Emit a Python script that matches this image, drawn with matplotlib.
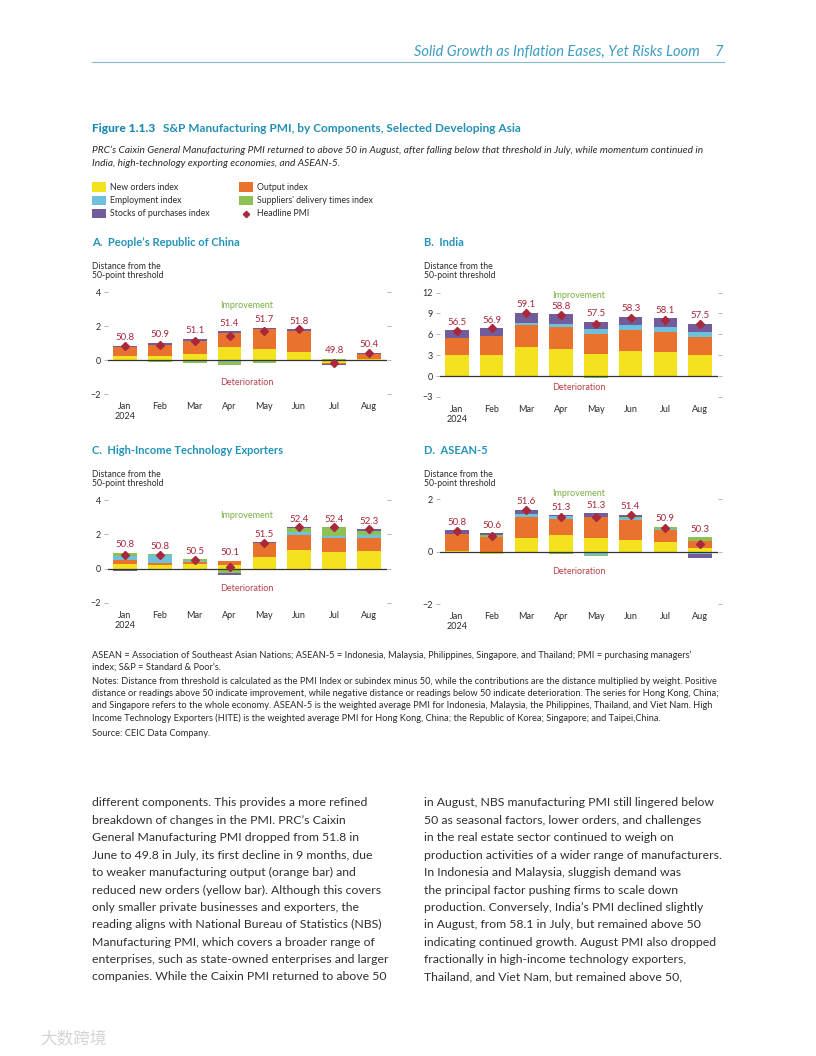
import numpy as np
import matplotlib.pyplot as plt
from matplotlib.patches import Rectangle
from matplotlib.lines import Line2D

W, H = 816, 1056

plt.rcParams['font.family'] = ['Lato', 'DejaVu Sans']

months = ["Jan\n2024", "Feb", "Mar", "Apr", "May", "Jun", "Jul", "Aug"]
comp_names = ["New orders index", "Output index", "Employment index",
              "Suppliers' delivery times index", "Stocks of purchases index"]
comp_colors = ["#F3E21D", "#E9722F", "#6EC1DC", "#8DC153", "#715C9C"]

# distance-from-50 contributions
prc_new_orders = [0.22, 0.25, 0.37, 0.76, 0.67, 0.50, -0.15, 0.05]
prc_output = [0.55, 0.65, 0.74, 0.84, 1.15, 1.20, -0.06, 0.28]
prc_employment = [-0.03, -0.05, -0.05, -0.12, -0.05, -0.02, -0.04, -0.02]
prc_suppliers = [-0.02, -0.04, -0.10, -0.16, -0.15, 0.02, 0.08, 0.05]
prc_stocks = [0.08, 0.12, 0.13, 0.08, 0.08, 0.10, -0.03, 0.04]
prc_headline = [50.8, 50.9, 51.1, 51.4, 51.7, 51.8, 49.8, 50.4]

ind_new_orders = [3.00, 3.10, 4.15, 3.90, 3.20, 3.55, 3.45, 3.10]
ind_output = [2.45, 2.65, 3.20, 3.20, 2.80, 3.00, 2.90, 2.50]
ind_employment = [0.05, 0.05, 0.30, 0.45, 0.70, 0.72, 0.72, 0.72]
ind_suppliers = [-0.05, 0.00, 0.00, -0.05, -0.30, -0.20, -0.15, -0.05]
ind_stocks = [1.05, 1.10, 1.45, 1.30, 1.10, 1.25, 1.20, 1.20]
ind_headline = [56.5, 56.9, 59.1, 58.8, 57.5, 58.3, 58.1, 57.5]

hite_new_orders = [0.25, 0.20, 0.30, 0.22, 0.66, 1.10, 0.95, 1.02]
hite_output = [0.23, 0.12, 0.10, 0.24, 0.83, 0.89, 0.85, 0.75]
hite_employment = [0.23, 0.45, 0.05, -0.05, -0.05, 0.12, 0.12, 0.17]
hite_suppliers = [0.21, 0.08, 0.10, -0.18, 0.02, 0.27, 0.50, 0.25]
hite_stocks = [-0.13, -0.05, -0.05, -0.13, 0.04, 0.02, -0.03, 0.12]
hite_headline = [50.8, 50.8, 50.5, 50.1, 51.5, 52.4, 52.4, 52.3]

asean_new_orders = [0.02, -0.10, 0.50, 0.62, 0.50, 0.43, 0.35, 0.15]
asean_output = [0.66, 0.55, 0.83, 0.62, 0.80, 0.76, 0.47, 0.25]
asean_employment = [-0.01, 0.00, 0.10, 0.10, -0.12, 0.10, 0.03, -0.10]
asean_suppliers = [0.00, 0.08, 0.00, -0.08, -0.04, 0.02, 0.09, 0.14]
asean_stocks = [0.13, 0.07, 0.17, 0.04, 0.16, 0.09, -0.04, -0.14]
asean_headline = [50.8, 50.6, 51.6, 51.3, 51.3, 51.4, 50.9, 50.3]

TEAL = "#2293B8"
DARK = "#2B2B2B"
RED = "#A8283C"
GREEN = "#79B043"


def fx(x):
    return x / W


def fy(y):
    return 1 - y / H


def axes_px(left, top, right, bottom):
    return [fx(left), fy(bottom), (right - left) / W, (bottom - top) / H]


fig = plt.figure(figsize=(W / 100, H / 100), dpi=100)
fig.patch.set_facecolor("white")
renderer = fig.canvas.get_renderer()


def fit_size(lines, target_px, start=10.0):
    # font size so that the widest line spans target_px
    t = fig.text(0, 0, max(lines, key=len), fontsize=start)
    widest = max(
        (t.set_text(s), t.get_window_extent(renderer).width)[1] for s in lines)
    t.remove()
    return start * target_px / widest


# running header
fig.text(fx(700), fy(52), "Solid Growth as Inflation Eases, Yet Risks Loom", ha="right", va="center",
         fontsize=10.5, style="italic", color="#3E9CC0")
fig.text(fx(723), fy(52), "7", ha="right", va="center", fontsize=10.5, color="#3E9CC0", style="italic")
fig.add_artist(Line2D([fx(92), fx(724)], [fy(62), fy(62)], color="#86B9CC", lw=0.8))

# figure title
fig.text(fx(92), fy(128), "Figure 1.1.3", ha="left", va="center", fontsize=8.6, fontweight="black", color="#1B88B0")
fig.text(fx(163), fy(128), "S&P Manufacturing PMI, by Components, Selected Developing Asia", ha="left", va="center",
         fontsize=8.6, fontweight="bold", color="#2590B5")
fig.text(fx(92), fy(150), "PRC’s Caixin General Manufacturing PMI returned to above 50 in August, after falling below that "
         "threshold in July, while momentum continued in", ha="left", va="center", fontsize=7.3, style="italic", color=DARK)
fig.text(fx(92), fy(163), "India, high-technology exporting economies, and ASEAN-5.", ha="left", va="center",
         fontsize=7.3, style="italic", color=DARK)

# legend
leg_items = [(0, 0, 0), (2, 0, 1), (4, 0, 2), (1, 1, 0), (3, 1, 1)]
for ci, col, row in leg_items:
    x0 = 92 if col == 0 else 239
    yc = 187 + row * 13.3
    fig.add_artist(Rectangle((fx(x0), fy(yc + 4.5)), 14 / W, 9 / H, transform=fig.transFigure,
                             facecolor=comp_colors[ci], edgecolor="none"))
    fig.text(fx(x0 + 18), fy(yc), comp_names[ci], ha="left", va="center", fontsize=6.3, color=DARK)
fig.add_artist(Line2D([fx(246)], [fy(213.6)], marker="D", markersize=3.2, color=RED, lw=0))
fig.text(fx(257), fy(213.6), "Headline PMI", ha="left", va="center", fontsize=6.3, color=DARK)

panels = [
    dict(title="A.  People’s Republic of China", tx=92, ty=242,
         rect=(107.5, 292, 386.5, 394), ylim=(-2, 4), yticks=[-2, 0, 2, 4],
         comps=[prc_new_orders, prc_output, prc_employment, prc_suppliers, prc_stocks],
         head=prc_headline, imp=3.2, det=-1.35),
    dict(title="B.  India", tx=424, ty=242,
         rect=(439.5, 292.5, 717.5, 397), ylim=(-3, 12), yticks=[-3, 0, 3, 6, 9, 12],
         comps=[ind_new_orders, ind_output, ind_employment, ind_suppliers, ind_stocks],
         head=ind_headline, imp=11.6, det=-1.7),
    dict(title="C.  High-Income Technology Exporters", tx=92, ty=450,
         rect=(107.5, 500, 386.5, 603), ylim=(-2, 4), yticks=[-2, 0, 2, 4],
         comps=[hite_new_orders, hite_output, hite_employment, hite_suppliers, hite_stocks],
         head=hite_headline, imp=3.1, det=-1.15),
    dict(title="D.  ASEAN-5", tx=424, ty=450,
         rect=(439.5, 499, 717.5, 604), ylim=(-2, 2), yticks=[-2, 0, 2],
         comps=[asean_new_orders, asean_output, asean_employment, asean_suppliers, asean_stocks],
         head=asean_headline, imp=2.2, det=-0.75),
]

for p in panels:
    ax = fig.add_axes(axes_px(*p["rect"]))
    x = np.arange(len(months))
    pos_base = np.zeros(len(months))
    neg_base = np.zeros(len(months))
    for vals, c in zip(p["comps"], comp_colors):
        v = np.array(vals)
        vp = np.where(v > 0, v, 0)
        vn = np.where(v < 0, v, 0)
        ax.bar(x, vp, 0.68, bottom=pos_base, color=c, edgecolor="none")
        ax.bar(x, vn, 0.68, bottom=neg_base, color=c, edgecolor="none")
        pos_base += vp
        neg_base += vn
    dist = np.array(p["head"]) - 50
    ax.plot(x, dist, "D", color=RED, markersize=3.6, zorder=5)
    for i, h in enumerate(p["head"]):
        ax.annotate(f"{h:.1f}", (x[i], pos_base[i]), xytext=(0, 2.5), textcoords="offset points",
                    ha="center", va="bottom", fontsize=7, color=RED)
    ax.axhline(0, color="#333333", lw=0.9, zorder=4)
    ax.set_xlim(-0.5, len(months) - 0.5)
    ax.set_ylim(*p["ylim"])
    ax.set_yticks(p["yticks"])
    ax.set_xticks(x)
    ax.set_xticklabels(months, fontsize=6.5, color=DARK, linespacing=1.15)
    ax.tick_params(axis="x", length=0, pad=6)
    ax.tick_params(axis="y", length=3, width=0.5, color="#9A9A9A", labelsize=6.5, labelcolor=DARK,
                   pad=1.5, right=True, direction="out")
    for s in ax.spines.values():
        s.set_visible(False)
    ax.text(3.5, p["imp"], "Improvement", ha="center", va="center", fontsize=6.5, color=GREEN, clip_on=False)
    ax.text(3.5, p["det"], "Deterioration", ha="center", va="center", fontsize=6.5, color="#B8404A", clip_on=False)
    fig.text(fx(p["tx"]), fy(p["ty"]), p["title"], ha="left", va="center", fontsize=8, fontweight="bold", color=TEAL)
    fig.text(fx(p["tx"]), fy(p["ty"] + 29), "Distance from the\n50-point threshold", ha="left", va="center",
             fontsize=6.2, color=DARK, linespacing=1.05)

# notes
notes = [
    (655, "ASEAN = Association of Southeast Asian Nations; ASEAN-5 = Indonesia, Malaysia, Philippines, Singapore, and Thailand; PMI = purchasing managers’"),
    (667, "index; S&P = Standard & Poor’s."),
    (681, "Notes: Distance from threshold is calculated as the PMI Index or subindex minus 50, while the contributions are the distance multiplied by weight. Positive"),
    (693.5, "distance or readings above 50 indicate improvement, while negative distance or readings below 50 indicate deterioration. The series for Hong Kong, China;"),
    (706, "and Singapore refers to the whole economy. ASEAN-5 is the weighted average PMI for Indonesia, Malaysia, the Philippines, Thailand, and Viet Nam. High"),
    (718.5, "Income Technology Exporters (HITE) is the weighted average PMI for Hong Kong, China; the Republic of Korea; Singapore; and Taipei,China."),
    (733, "Source: CEIC Data Company."),
]
note_size = fit_size([t for _, t in notes], 626, 6.5)
for y, t in notes:
    fig.text(fx(92), fy(y), t, ha="left", va="center", fontsize=note_size, color=DARK)

left_col = [
    "different components. This provides a more refined",
    "breakdown of changes in the PMI. PRC’s Caixin",
    "General Manufacturing PMI dropped from 51.8 in",
    "June to 49.8 in July, its first decline in 9 months, due",
    "to weaker manufacturing output (orange bar) and",
    "reduced new orders (yellow bar). Although this covers",
    "only smaller private businesses and exporters, the",
    "reading aligns with National Bureau of Statistics (NBS)",
    "Manufacturing PMI, which covers a broader range of",
    "enterprises, such as state-owned enterprises and larger",
    "companies. While the Caixin PMI returned to above 50",
]
right_col = [
    "in August, NBS manufacturing PMI still lingered below",
    "50 as seasonal factors, lower orders, and challenges",
    "in the real estate sector continued to weigh on",
    "production activities of a wider range of manufacturers.",
    "In Indonesia and Malaysia, sluggish demand was",
    "the principal factor pushing firms to scale down",
    "production. Conversely, India’s PMI declined slightly",
    "in August, from 58.1 in July, but remained above 50",
    "indicating continued growth. August PMI also dropped",
    "fractionally in high-income technology exporters,",
    "Thailand, and Viet Nam, but remained above 50,",
]
body_size = fit_size(left_col + right_col, 299, 9.5)
for i, (l, r) in enumerate(zip(left_col, right_col)):
    y = 803 + i * 17.4
    fig.text(fx(92), fy(y), l, ha="left", va="center", fontsize=body_size, color="#303030")
    fig.text(fx(424), fy(y), r, ha="left", va="center", fontsize=body_size, color="#303030")

fig.text(fx(40), fy(1040), "大数跨境", ha="left", va="center", fontsize=12, color="#D4D4D4",
         family=["Noto Sans CJK SC", "DejaVu Sans"])

fig.savefig("out.png", dpi=100)
